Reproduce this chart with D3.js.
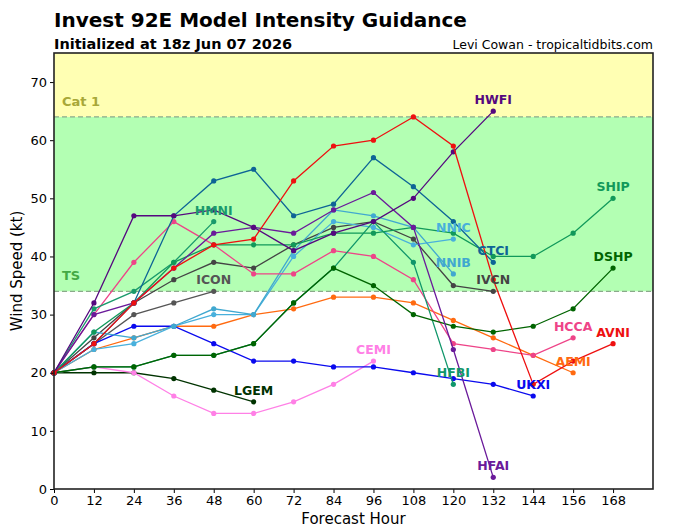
<!DOCTYPE html>
<html lang="en">
<head>
<meta charset="utf-8">
<title>Invest 92E Model Intensity Guidance</title>
<script src="https://cdn.jsdelivr.net/npm/d3@7"></script>
<style>
  body { margin: 0; background: #fff; }
  svg text { font-family: "DejaVu Sans", sans-serif; }
</style>
</head>
<body>
<svg id="chart"></svg>
<script>
// forecast hours shared by every model
var hours = [0, 12, 24, 36, 48, 60, 72, 84, 96, 108, 120, 132, 144, 156, 168];
var xTicks = [0, 12, 24, 36, 48, 60, 72, 84, 96, 108, 120, 132, 144, 156, 168];
var yTicks = [0, 10, 20, 30, 40, 50, 60, 70];

// intensity (kt) per model, index matches hours
var AVNI = [20, 25, 32, 38, 42, 43, 53, 59, 60, 64, 59, 36, 18, 22, 25];
var HWFI = [20, 32, 47, 47, 48, 45, 41, 44, 46, 50, 58, 65];
var HFAI = [20, 30, 32, 38, 44, 45, 44, 48, 51, 45, 24, 2];
var CTCI = [20, 25, 32, 47, 53, 55, 47, 49, 57, 52, 46, 39];
var HMNI = [20, 31, 34, 39, 46];
var SHIP = [20, 27, 32, 39, 42, 42, 42, 44, 44, 45, 44, 40, 40, 44, 50];
var DSHP = [20, 21, 21, 23, 23, 25, 32, 38, 35, 30, 28, 27, 28, 31, 38];
var HFBI = [20, 21, 21, 23, 23, 25, 32, 38, 46, 39, 18];
var ICON = [20, 25, 30, 32, 34];
var IVCN = [20, 26, 32, 36, 39, 38, 42, 45, 46, 43, 35, 34];
var LGEM = [20, 20, 20, 19, 17, 15];
var CEMI = [20, 21, 20, 16, 13, 13, 15, 18, 22];
var NNIB = [20, 27, 26, 28, 31, 30, 41, 48, 47, 45, 37];
var NNIC = [20, 24, 25, 28, 30, 30, 40, 46, 45, 42, 43];
var UKXI = [20, 25, 28, 28, 25, 22, 22, 21, 21, 20, 19, 18, 16];
var AEMI = [20, 24, 26, 28, 28, 30, 31, 33, 33, 32, 29, 26, 23, 20];
var HCCA = [20, 30, 39, 46, 42, 37, 37, 41, 40, 36, 25, 24, 23, 26];

var models = [
  {name: "LGEM", vals: LGEM, color: "#003300"},
  {name: "CEMI", vals: CEMI, color: "#ff80e6"},
  {name: "ICON", vals: ICON, color: "#555555"},
  {name: "IVCN", vals: IVCN, color: "#444444"},
  {name: "AEMI", vals: AEMI, color: "#ff6a10"},
  {name: "UKXI", vals: UKXI, color: "#0a0aee"},
  {name: "NNIC", vals: NNIC, color: "#48b0dc"},
  {name: "NNIB", vals: NNIB, color: "#40a8d0"},
  {name: "HCCA", vals: HCCA, color: "#ee4488"},
  {name: "HMNI", vals: HMNI, color: "#1a9a6c"},
  {name: "HFBI", vals: HFBI, color: "#10966a"},
  {name: "DSHP", vals: DSHP, color: "#006400"},
  {name: "SHIP", vals: SHIP, color: "#11995a"},
  {name: "CTCI", vals: CTCI, color: "#0e6496"},
  {name: "HFAI", vals: HFAI, color: "#6a1a9a"},
  {name: "HWFI", vals: HWFI, color: "#55087f"},
  {name: "AVNI", vals: AVNI, color: "#ee1010"}
];

var W = 680, H = 531;
var m = {left: 54, top: 53, right: 27, bottom: 42};
var pw = W - m.left - m.right, ph = H - m.top - m.bottom;

var svg = d3.select("#chart").attr("width", W).attr("height", H);

var x = d3.scaleLinear().domain([0, 180]).range([0, pw]);
var y = d3.scaleLinear().domain([0, 75]).range([ph, 0]);

var g = svg.append("g").attr("transform", "translate(" + m.left + "," + m.top + ")");

// intensity category bands
g.append("rect").attr("x", 0).attr("width", pw)
  .attr("y", y(75)).attr("height", y(64) - y(75)).attr("fill", "#ffffb3");
g.append("rect").attr("x", 0).attr("width", pw)
  .attr("y", y(64)).attr("height", y(34) - y(64)).attr("fill", "#b3ffb3");
[64, 34].forEach(function(v) {
  g.append("line").attr("x1", 0).attr("x2", pw)
    .attr("y1", y(v)).attr("y2", y(v))
    .attr("stroke", "#8aaa8a").attr("stroke-width", 1.2)
    .attr("stroke-dasharray", "5,3");
});
g.append("text").attr("x", 8).attr("y", y(64) - 11).text("Cat 1")
  .attr("fill", "#a8a838").attr("font-weight", "bold").attr("font-size", "13px");
g.append("text").attr("x", 8).attr("y", y(34) - 11).text("TS")
  .attr("fill", "#44aa44").attr("font-weight", "bold").attr("font-size", "13px");

// model tracks
var line = d3.line()
  .x(function(d) { return x(d[0]); })
  .y(function(d) { return y(d[1]); });

models.forEach(function(md) {
  var pts = md.vals.map(function(v, i) { return [hours[i], v]; });
  g.append("path").datum(pts)
    .attr("d", line)
    .attr("fill", "none")
    .attr("stroke", md.color)
    .attr("stroke-width", 1.3);
  g.selectAll(null).data(pts).enter().append("circle")
    .attr("cx", function(d) { return x(d[0]); })
    .attr("cy", function(d) { return y(d[1]); })
    .attr("r", 2.6)
    .attr("fill", md.color);
});

// model names at the end of each track
models.forEach(function(md) {
  var last = md.vals.length - 1;
  g.append("text")
    .attr("x", x(hours[last]))
    .attr("y", y(md.vals[last]) - 7)
    .attr("text-anchor", "middle")
    .attr("font-weight", "bold")
    .attr("font-size", "12.5px")
    .attr("fill", md.color)
    .text(md.name);
});

// axes
var xAxis = g.append("g").attr("transform", "translate(0," + ph + ")")
  .call(d3.axisBottom(x).tickValues(xTicks).tickSize(4).tickPadding(3));
var yAxis = g.append("g")
  .call(d3.axisLeft(y).tickValues(yTicks).tickSize(4).tickPadding(3));
[xAxis, yAxis].forEach(function(a) {
  a.select(".domain").remove();
  a.selectAll("text").attr("font-size", "13px").attr("fill", "#000")
    .attr("font-family", "DejaVu Sans, sans-serif");
  a.selectAll("line").attr("stroke", "#000");
});

// frame
g.append("rect").attr("x", 0).attr("y", 0).attr("width", pw).attr("height", ph)
  .attr("fill", "none").attr("stroke", "#222").attr("stroke-width", 1.6);

svg.append("text").attr("x", m.left + pw / 2).attr("y", 524)
  .attr("text-anchor", "middle").attr("font-size", "15px").text("Forecast Hour");
svg.append("text")
  .attr("transform", "translate(22," + (m.top + ph / 2) + ") rotate(-90)")
  .attr("text-anchor", "middle").attr("font-size", "15px").text("Wind Speed (kt)");

// titles
svg.append("text").attr("x", 54).attr("y", 27)
  .attr("font-size", "20px").attr("font-weight", "bold")
  .text("Invest 92E Model Intensity Guidance");
svg.append("text").attr("x", 54).attr("y", 49)
  .attr("font-size", "14.5px").attr("font-weight", "bold")
  .text("Initialized at 18z Jun 07 2026");
svg.append("text").attr("x", 653).attr("y", 49)
  .attr("text-anchor", "end").attr("font-size", "12.5px")
  .text("Levi Cowan - tropicaltidbits.com");
</script>
</body>
</html>
